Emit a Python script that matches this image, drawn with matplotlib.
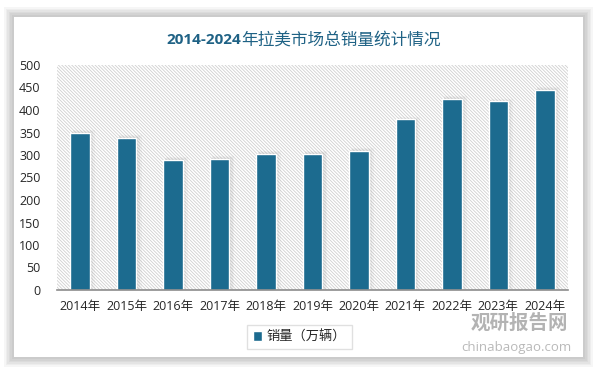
import matplotlib
matplotlib.use("Agg")
import matplotlib.pyplot as plt
from matplotlib.patches import Rectangle
import numpy as np

plt.rcParams['font.family'] = ['Open Sans', 'Noto Sans CJK SC', 'DejaVu Sans']
plt.rcParams['hatch.linewidth'] = 0.6

years = ['2014年', '2015年', '2016年', '2017年', '2018年', '2019年',
         '2020年', '2021年', '2022年', '2023年', '2024年']
sales = [350, 338, 290, 292, 303, 303, 310, 379, 425, 419, 445]
yticks = [0, 50, 100, 150, 200, 250, 300, 350, 400, 450, 500]
title_num = '2014-2024'
title_txt = '年拉美市场总销量统计情况'
legend_label = '销量（万辆）'

W, H = 596, 372
fig = plt.figure(figsize=(W / 100, H / 100), dpi=100)
fig.patch.set_facecolor('#ffffff')

# card shadow
cx0, cy0, cx1, cy1 = 14, 17, 583, 357
for i in range(6):
    d = 10 - i * 1.6
    fig.patches.append(Rectangle(((cx0 - d) / W, 1 - (cy1 + d) / H),
                                 (cx1 - cx0 + 2 * d) / W, (cy1 - cy0 + 2 * d) / H,
                                 transform=fig.transFigure, facecolor='#000000',
                                 alpha=0.035, edgecolor='none', zorder=-5))
fig.patches.append(Rectangle((cx0 / W, 1 - cy1 / H), (cx1 - cx0) / W, (cy1 - cy0) / H,
                             transform=fig.transFigure, facecolor='white',
                             edgecolor='none', zorder=-4))

ax = fig.add_axes([57 / W, 1 - 290 / H, (568 - 57) / W, (290 - 65) / H])
ax.patch.set_alpha(0)
ax.add_patch(Rectangle((0, 0), 1, 1, transform=ax.transAxes, facecolor='white',
                       edgecolor='#cfcfcf', hatch='\\' * 10, linewidth=0, zorder=0))

x = np.arange(len(years))
# bar shadows
for k, al in enumerate([0.10, 0.08, 0.06]):
    ax.bar(x + 0.03 + k * 0.025, [v + 2 + k * 2 for v in sales], width=0.42 + k * 0.03,
           color='#808080', alpha=al, zorder=1, linewidth=0)
ax.bar(x, sales, width=0.42, color='#1c6b8f', edgecolor='white', linewidth=1.0,
       zorder=3, label=legend_label)

ax.set_xlim(-0.5, len(years) - 0.5)
ax.set_ylim(0, 500)
ax.set_yticks(yticks)
ax.set_yticklabels([str(v) for v in yticks], fontsize=9, color='#262626')
ax.set_xticks(x)
ax.set_xticklabels(years, fontsize=9, color='#262626')
ax.tick_params(axis='both', length=0)
ax.tick_params(axis='y', pad=12)
ax.tick_params(axis='x', pad=7)
for s in ['left', 'right', 'top']:
    ax.spines[s].set_visible(False)
ax.spines['bottom'].set_color('#8c8c8c')
ax.spines['bottom'].set_linewidth(1.2)
ax.spines['bottom'].set_zorder(4)

# title
fig.text(241 / W, 1 - 40 / H, title_num, ha='right', va='center', fontsize=11,
         fontweight='bold', color='#1f6285')
fig.text(241 / W, 1 - 40 / H, title_txt, ha='left', va='center', fontsize=12,
         color='#1f6285', family=['Noto Sans CJK SC', 'DejaVu Sans'])

# legend
leg = fig.legend(loc='center', bbox_to_anchor=(299.5 / W, 1 - 337 / H),
                 frameon=True, fancybox=False, edgecolor='#d9d9d9', handlelength=0.7,
                 handleheight=0.7, handletextpad=0.3, borderpad=0.45,
                 prop={'family': ['Noto Sans CJK SC', 'DejaVu Sans'], 'size': 9.5})
leg.get_frame().set_linewidth(1.0)
for t in leg.get_texts():
    t.set_color('#262626')

# watermark
fig.text(519 / W, 1 - 323 / H, '观研报告网', ha='center', va='center', fontsize=14,
         fontweight='bold', color='#9a9a9a', alpha=0.75,
         family=['Noto Sans CJK SC', 'DejaVu Sans'])
fig.text(516 / W, 1 - 347 / H, 'chinabaogao.com', ha='center', va='center', fontsize=9.5,
         color='#a8a8a8', alpha=0.8)

fig.savefig('out.png', dpi=100)
